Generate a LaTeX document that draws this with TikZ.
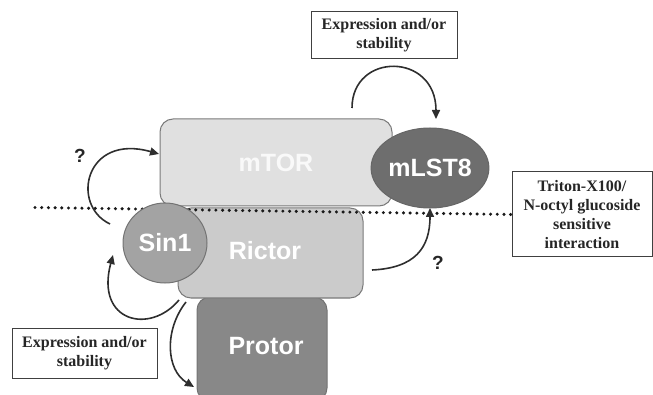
\documentclass[tikz,border=0pt]{standalone}
\usepackage{fontspec}
\setmainfont{Liberation Serif}
\setsansfont{Liberation Sans}
\usetikzlibrary{shapes.geometric,arrows.meta}
\definecolor{cmtor}{HTML}{E0E0E0}
\definecolor{crictor}{HTML}{CBCBCB}
\definecolor{csin}{HTML}{A3A3A3}
\definecolor{cprotor}{HTML}{888888}
\definecolor{cmlst}{HTML}{6E6E6E}
\definecolor{cedge}{HTML}{7A7A7A}
\definecolor{carrow}{HTML}{2E2E2E}
\tikzset{
  prot/.style={draw=cedge, line width=1pt, rounded corners=13pt, text=white, font=\sffamily\bfseries\fontsize{25}{28}\selectfont, inner sep=0pt},
  globe/.style={draw=cedge, line width=1pt, ellipse, text=white, font=\sffamily\bfseries\fontsize{25}{28}\selectfont, inner sep=0pt},
  labelbox/.style={draw=black!75, line width=1pt, fill=white, font=\bfseries\fontsize{16}{19}\selectfont, align=center, text=black!85, inner sep=0pt},
  curvedarrow/.style={draw=carrow, line width=1.6pt, -{Triangle[length=9pt,width=8pt]}},
  qmark/.style={font=\sffamily\bfseries\fontsize{19}{22}\selectfont, text=black!85},
  protlbl/.style={text=white, font=\sffamily\bfseries\fontsize{25}{28}\selectfont},
}
\begin{document}
\begin{tikzpicture}[x=1pt,y=-1pt]
\useasboundingbox (0,0) rectangle (653,395);
% shapes
\node[prot, fill=cmtor, minimum width=232pt, minimum height=87pt, text=white!95!gray] (mtor) at (276,162.5) {mTOR};
\node[globe, fill=cmlst, draw=black!60, minimum width=96pt, minimum height=80pt] (mlst) at (430,168) {mLST8};
\node[prot, fill=cprotor, draw=black!55, minimum width=130pt, minimum height=104pt] (protor) at (262,349) {};
\node[prot, fill=crictor, minimum width=185pt, minimum height=90pt] (rictor) at (270.5,253) {};
% dotted line
\coordinate (dl) at (35,207.5);
\node[labelbox, minimum width=140pt, minimum height=85pt] (triton) at (582,214.5) {Triton-X100/\\N-octyl glucoside\\sensitive\\interaction};
\draw[line width=3.4pt, line cap=round, dash pattern=on 0pt off 6.7pt, black!90] (dl) -- (triton.west);
\node[globe, fill=csin, draw=black!55, minimum width=84pt, minimum height=80pt] (sin) at (165,243) {Sin1};
\node[protlbl] (rictorlbl) at (265,251) {Rictor};
\node[protlbl] (protorlbl) at (266,346) {Protor};
% label boxes
\node[labelbox, minimum width=146pt, minimum height=47pt] (exptop) at (384,35.5) {Expression and/or\\stability};
\node[labelbox, minimum width=145pt, minimum height=50pt] (expbot) at (84.5,353) {Expression and/or\\stability};
% question marks
\node[qmark] (q1) at (80,156) {?};
\node[qmark] (q2) at (438,263) {?};
% arrows
\coordinate (a1s) at (352,108);
\coordinate (a1e) at (436,119);
\draw[curvedarrow] (a1s) .. controls (352,52) and (436,52) .. (a1e);
\coordinate (a2s) at (110,224);
\coordinate (a2e) at (159,154);
\draw[curvedarrow] (a2s) .. controls (70,205) and (85,133) .. (a2e);
\coordinate (a3s) at (372,270);
\coordinate (a3e) at (430,208);
\draw[curvedarrow] (a3s) .. controls (415,268) and (430,248) .. (a3e);
\coordinate (a4s) at (179,300);
\coordinate (a4e) at (113,255);
\draw[curvedarrow] (a4s) .. controls (150,335) and (95,322) .. (a4e);
\coordinate (a5s) at (186,302);
\coordinate (a5e) at (194,387);
\draw[curvedarrow] (a5s) .. controls (164,330) and (166,370) .. (a5e);
\end{tikzpicture}
\end{document}
